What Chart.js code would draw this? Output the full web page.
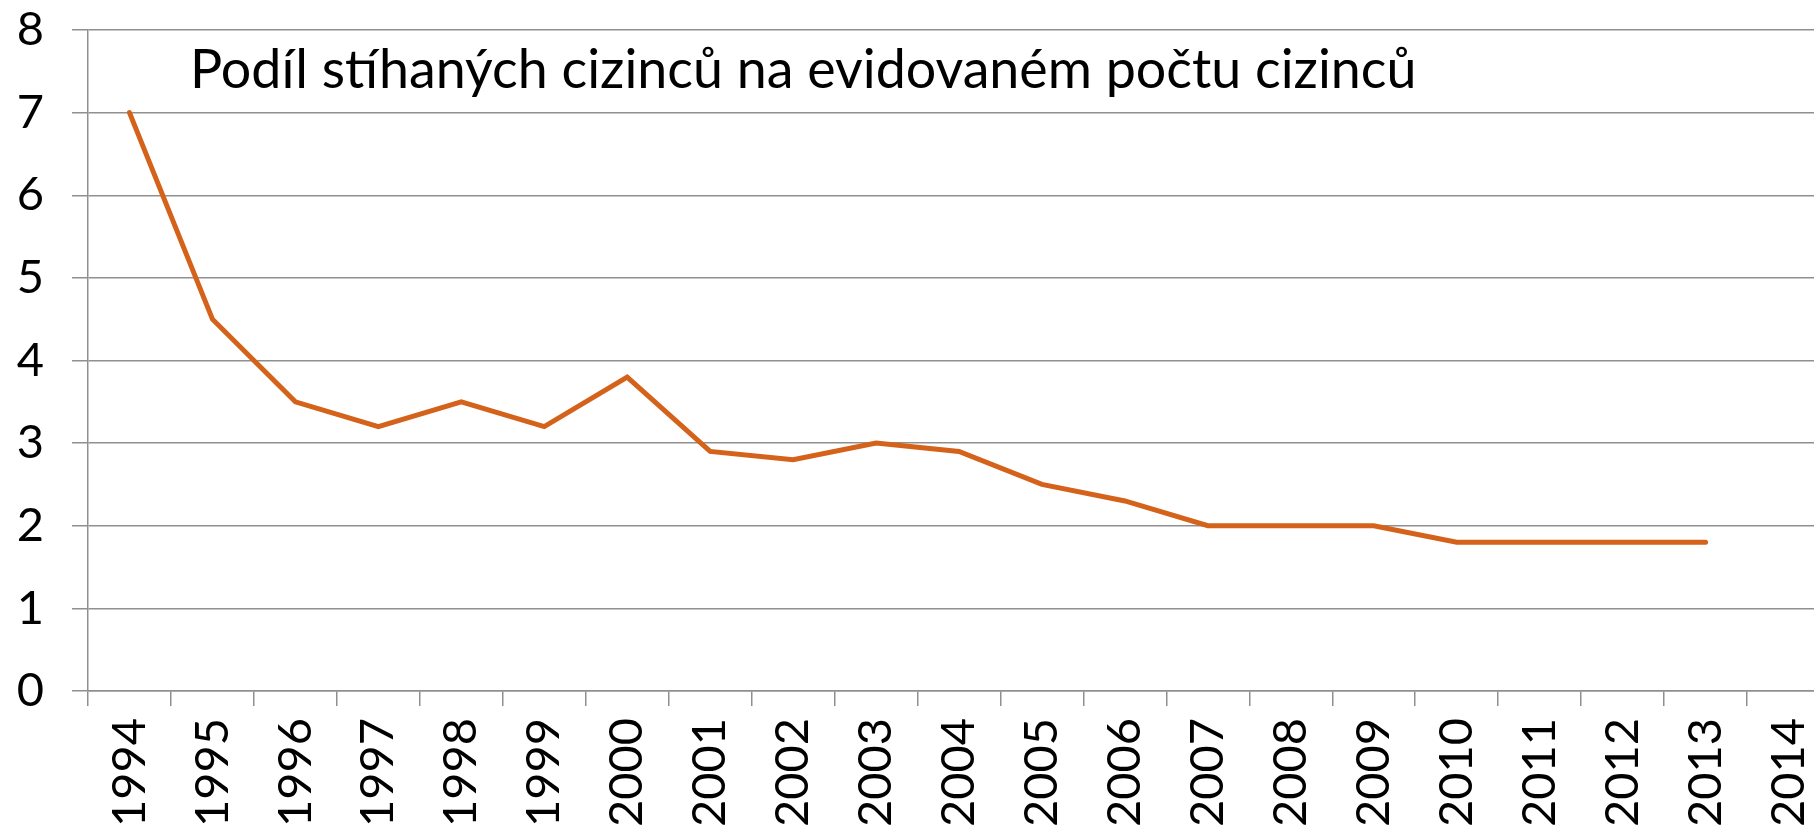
<!DOCTYPE html>
<html>
<head>
<meta charset="utf-8">
<script src="https://cdn.jsdelivr.net/npm/chart.js@4.4.0/dist/chart.umd.min.js"></script>
<style>
    html, body { margin: 0; padding: 0; background: #fff; overflow: hidden; }
    #wrap { width: 1814px; height: 828px; overflow: hidden; position: relative; }
    canvas { display: block; }
</style>
</head>
<body>
<div id="wrap"><canvas id="myChart" width="1830" height="828"></canvas></div>
<script>
var years = ['1994', '1995', '1996', '1997', '1998', '1999', '2000', '2001', '2002', '2003', '2004',
    '2005', '2006', '2007', '2008', '2009', '2010', '2011', '2012', '2013', '2014'];
var share = [7.0, 4.5, 3.5, 3.2, 3.5, 3.2, 3.8, 2.9, 2.8, 3.0, 2.9,
    2.5, 2.3, 2.0, 2.0, 2.0, 1.8, 1.8, 1.8, 1.8, null];
var yTicks = [0, 1, 2, 3, 4, 5, 6, 7, 8];
var titleText = 'Podíl stíhaných cizinců na evidovaném počtu cizinců';

var fontFamily = 'Lato, "Noto Sans", sans-serif';
var gridColor = '#8f8f8f';

// title sits inside the plot area, so draw it after the chart
var innerTitle = {
    id: 'innerTitle',
    afterDraw: function(chart) {
        var ctx = chart.ctx;
        ctx.save();
        var size = 48;
        ctx.font = size + 'px ' + fontFamily;
        var w = ctx.measureText(titleText).width;
        size = size * 1227 / w;
        ctx.font = size + 'px ' + fontFamily;
        ctx.fillStyle = '#000';
        ctx.textBaseline = 'alphabetic';
        ctx.fillText(titleText, 190, 88);
        ctx.restore();
    }
};

var ctx = document.getElementById('myChart').getContext('2d');
var myChart = new Chart(ctx, {
    type: 'line',
    data: {
        labels: years,
        datasets: [{
            label: titleText,
            data: share,
            borderColor: '#D5621A',
            backgroundColor: '#D5621A',
            borderWidth: 5,
            borderCapStyle: 'round',
            borderJoinStyle: 'miter',
            pointRadius: 0,
            tension: 0,
            spanGaps: false
        }]
    },
    options: {
        responsive: false,
        animation: false,
        devicePixelRatio: 1,
        layout: {
            padding: { top: 30, left: 0, right: 0, bottom: 0 }
        },
        plugins: {
            legend: { display: false },
            tooltip: { enabled: false }
        },
        scales: {
            x: {
                offset: true,
                grid: {
                    offset: true,
                    drawOnChartArea: false,
                    drawTicks: true,
                    tickLength: 15,
                    color: gridColor,
                    lineWidth: 1.5
                },
                border: { display: true, color: gridColor, width: 1.5 },
                ticks: {
                    color: '#000',
                    font: { family: fontFamily, size: 47 },
                    minRotation: 90,
                    maxRotation: 90,
                    autoSkip: false,
                    padding: 12
                },
                afterFit: function(scale) {
                    scale.height = 137;
                    scale.paddingLeft = 0;
                    scale.paddingRight = 0;
                }
            },
            y: {
                min: 0,
                max: 8,
                afterBuildTicks: function(scale) {
                    scale.ticks = yTicks.map(function(v) { return { value: v }; });
                },
                grid: {
                    color: gridColor,
                    lineWidth: 1.5,
                    tickLength: 16
                },
                border: { display: true, color: gridColor, width: 1.5 },
                ticks: {
                    color: '#000',
                    font: { family: fontFamily, size: 47 },
                    padding: 28
                },
                afterFit: function(scale) {
                    scale.width = 88;
                    scale.paddingTop = 0;
                    scale.paddingBottom = 0;
                }
            }
        }
    },
    plugins: [innerTitle]
});
</script>
</body>
</html>
